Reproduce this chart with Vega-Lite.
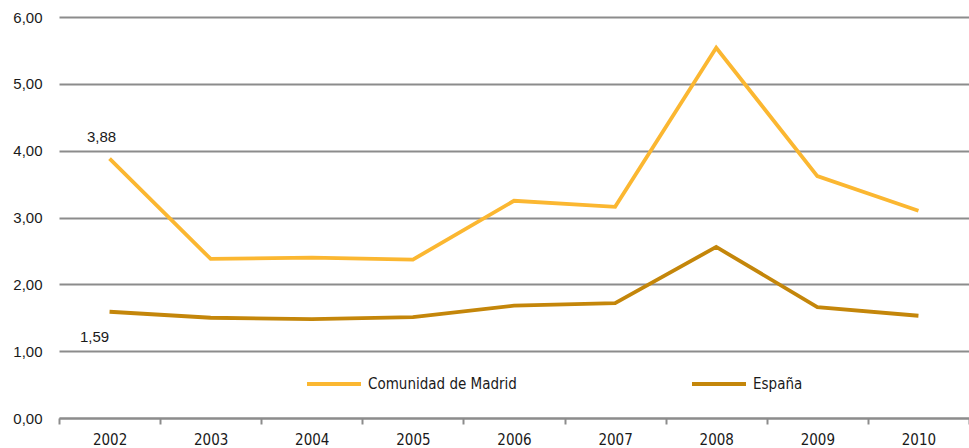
{
  "$schema": "https://vega.github.io/schema/vega-lite/v6.json",
  "width": 910,
  "height": 401,
  "autosize": {"type": "none"},
  "padding": {"left": 59, "top": 17, "right": 0, "bottom": 30},
  "background": "white",
  "config": {
    "locale": {"number": {"decimal": ",", "thousands": ".", "grouping": [3], "currency": ["", " €"]}},
    "view": {"stroke": null},
    "font": "Liberation Sans"
  },
  "data": {
    "values": [
      {"year": "2002", "series": "Comunidad de Madrid", "value": 3.88},
      {"year": "2003", "series": "Comunidad de Madrid", "value": 2.38},
      {"year": "2004", "series": "Comunidad de Madrid", "value": 2.40},
      {"year": "2005", "series": "Comunidad de Madrid", "value": 2.37},
      {"year": "2006", "series": "Comunidad de Madrid", "value": 3.25},
      {"year": "2007", "series": "Comunidad de Madrid", "value": 3.16},
      {"year": "2008", "series": "Comunidad de Madrid", "value": 5.54},
      {"year": "2009", "series": "Comunidad de Madrid", "value": 3.62},
      {"year": "2010", "series": "Comunidad de Madrid", "value": 3.10},
      {"year": "2002", "series": "España", "value": 1.59},
      {"year": "2003", "series": "España", "value": 1.50},
      {"year": "2004", "series": "España", "value": 1.48},
      {"year": "2005", "series": "España", "value": 1.51},
      {"year": "2006", "series": "España", "value": 1.68},
      {"year": "2007", "series": "España", "value": 1.72},
      {"year": "2008", "series": "España", "value": 2.56},
      {"year": "2009", "series": "España", "value": 1.66},
      {"year": "2010", "series": "España", "value": 1.53}
    ]
  },
  "encoding": {
    "x": {
      "field": "year", "type": "ordinal", "bandPosition": 0.5,
      "scale": {"type": "band", "paddingInner": 0, "paddingOuter": 0},
      "axis": {
        "title": null, "labelAngle": 0, "tickBand": "extent",
        "domainColor": "#8c8c8c", "domainWidth": 2, "tickColor": "#8c8c8c", "tickWidth": 2, "tickSize": 6,
        "labelFont": "DejaVu Sans Condensed", "labelFontSize": 15, "labelColor": "#1a1a1a", "labelPadding": 8
      }
    },
    "y": {
      "field": "value", "type": "quantitative",
      "scale": {"domain": [0, 6], "nice": false},
      "axis": {
        "title": null, "values": [0, 1, 2, 3, 4, 5, 6], "format": ".2f",
        "domain": false, "ticks": false, "labelPadding": 17,
        "gridColor": "#8c8c8c", "gridWidth": 2,
        "labelFont": "Liberation Sans", "labelFontSize": 15, "labelColor": "#1a1a1a"
      }
    }
  },
  "layer": [
    {
      "mark": {"type": "line", "strokeWidth": 3.8},
      "encoding": {
        "color": {
          "field": "series", "type": "nominal",
          "scale": {"domain": ["Comunidad de Madrid", "España"], "range": ["#FBB731", "#C4860A"]},
          "legend": {
            "title": null, "orient": "none", "direction": "horizontal",
            "legendX": 246, "legendY": 338,
            "symbolType": "stroke", "symbolSize": 2916, "symbolStrokeWidth": 3.8,
            "columnPadding": 167, "labelOffset": 5,
            "labelFont": "DejaVu Sans Condensed", "labelFontSize": 15, "labelColor": "#1a1a1a"
          }
        }
      }
    },
    {
      "transform": [{"filter": "datum.year == '2002' && datum.series == 'Comunidad de Madrid'"}],
      "mark": {"type": "text", "fontSize": 15, "color": "#1a1a1a", "font": "Liberation Sans", "dx": -8, "dy": -22},
      "encoding": {
        "text": {"field": "value", "type": "quantitative", "format": ".2f"}
      }
    },
    {
      "transform": [{"filter": "datum.year == '2002' && datum.series == 'España'"}],
      "mark": {"type": "text", "fontSize": 15, "color": "#1a1a1a", "font": "Liberation Sans", "dx": -15, "dy": 25},
      "encoding": {
        "text": {"field": "value", "type": "quantitative", "format": ".2f"}
      }
    }
  ]
}
